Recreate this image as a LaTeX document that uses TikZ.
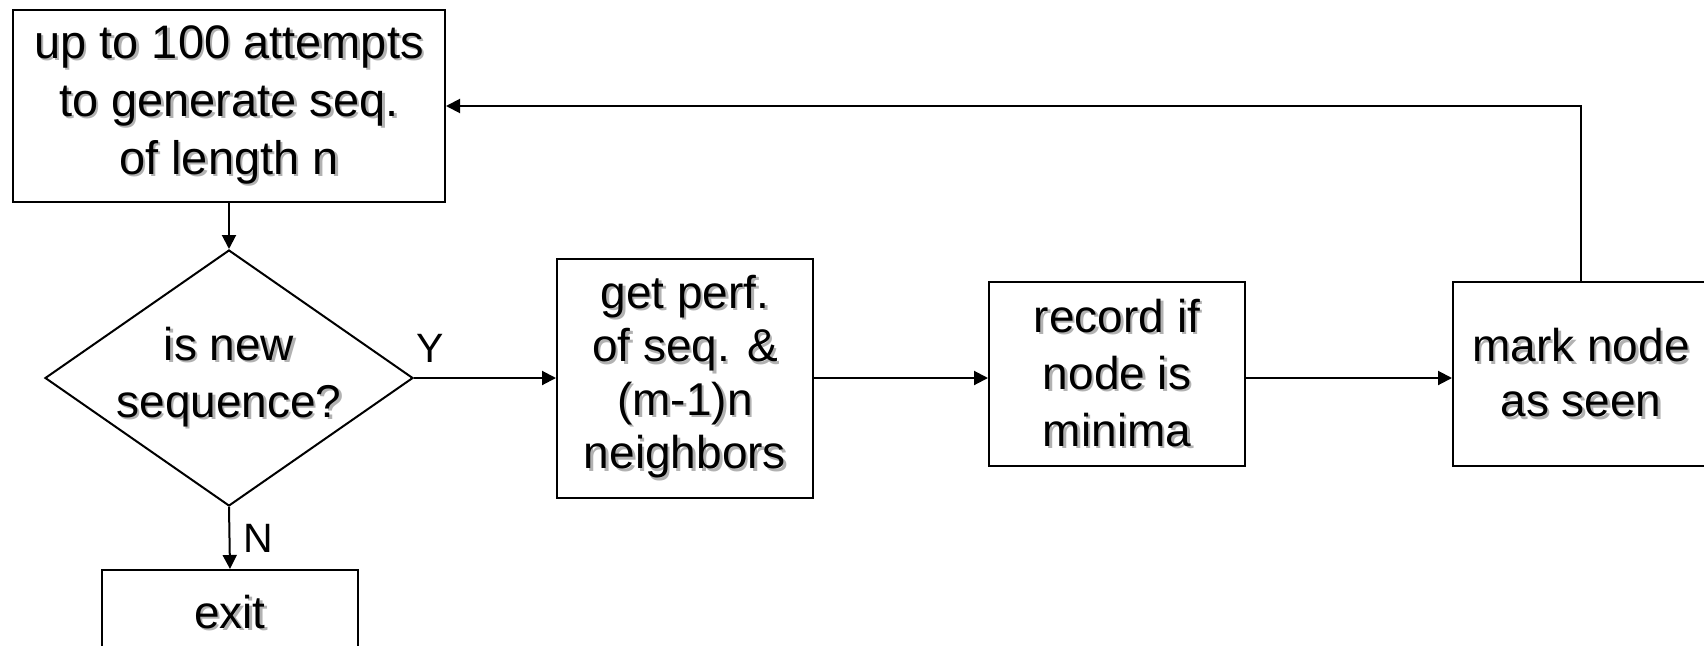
\documentclass[tikz,border=0pt]{standalone}
\usepackage{fontspec}
\setmainfont{Liberation Sans}
\usetikzlibrary{shapes.geometric,arrows.meta}
\newcommand\sh[1]{\rlap{\kern2.5pt\raisebox{-2.5pt}{\color{black!30}#1}}#1}
\begin{document}
\begin{tikzpicture}[x=1pt,y=-1pt,
  box/.style={draw, line width=2pt, minimum width=256pt, inner sep=0pt, align=center,
              font=\fontsize{46}{57}\selectfont},
  flow/.style={line width=2pt, -{Triangle[length=14pt,width=14pt]}},
  lbl/.style={font=\fontsize{41}{48}\selectfont, inner sep=0pt}]
\useasboundingbox[fill=white] (0,0) rectangle (1704,645);
\node[box, minimum width=432pt, minimum height=192pt, font=\fontsize{47}{58}\selectfont] (gen) at (229,106)
  {\sh{up to 100 attempts}\\\sh{to generate seq.}\\\sh{of length n}};
\node[diamond, draw, line width=2pt, minimum width=368pt, minimum height=256pt,
      inner sep=0pt, align=center, font=\fontsize{46}{57}\selectfont] (dec) at (229,378)
  {\makebox[0pt]{\sh{is new}}\\\makebox[0pt]{\sh{sequence?}}};
\node[box, minimum height=239pt, font=\fontsize{46}{53.5}\selectfont] (perf) at (685,378)
  {\sh{get perf.}\\\sh{of seq. \&}\\\sh{(m-1)n}\\\sh{neighbors}};
\node[box, minimum height=184pt] (rec) at (1117,374)
  {\sh{record if}\\\sh{node is}\\\sh{minima}};
\node[box, minimum height=184pt, font=\fontsize{46}{55}\selectfont] (mark) at (1581,374)
  {\sh{mark node}\\\sh{as seen}};
\node[box, anchor=base, text height=58pt, text depth=150pt] (exit) at (230,628)
  {\sh{exit}};
\draw[flow] (gen.south) -- (dec.north);
\draw[flow] (dec.east) -- node[lbl, at start, anchor=south west, yshift=15pt, xshift=1pt] {Y} (perf.west);
\draw[flow] (dec.south) -- node[lbl, pos=0.5, anchor=west, xshift=13pt] {N} (exit.north);
\draw[flow] (perf.east) -- (perf.east -| rec.west);
\draw[flow] (rec.east |- perf.east) -- (perf.east -| mark.west);
\draw[flow] (mark.north) -- (mark.north |- gen.east) -- (gen.east);
\end{tikzpicture}
\end{document}
